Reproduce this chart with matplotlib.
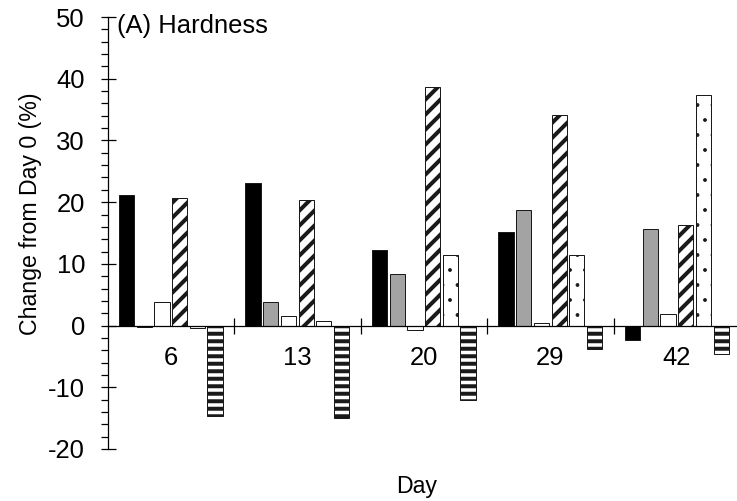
import numpy as np
import matplotlib
matplotlib.use('Agg')
import matplotlib.pyplot as plt

plt.rcParams['font.family'] = ['Liberation Sans', 'DejaVu Sans']
plt.rcParams['hatch.linewidth'] = 3.2
plt.rcParams['axes.unicode_minus'] = False

days = ['6', '13', '20', '29', '42']
# six treatments per day
s_black = [21.1, 23.1, 12.3, 15.1, -2.4]
s_gray = [-0.3, 3.8, 8.3, 18.8, 15.7]
s_white = [3.9, 1.6, -0.75, 0.45, 1.9]
s_diag = [20.7, 20.4, 38.7, 34.1, 16.3]
s_dots = [-0.4, 0.75, 11.4, 11.5, 37.4]
s_stripe = [-14.7, -14.9, -12.0, -3.8, -4.6]

series = [s_black, s_gray, s_white, s_diag, s_dots, s_stripe]
fills = ['black', '#a3a3a3', 'white', 'white', 'white', 'white']
hatches = [None, None, None, '//', '.', '--']

fig = plt.figure(figsize=(738 / 90, 501 / 90), dpi=90)
ax = fig.add_axes([0.1457, 0.1038, 0.8537, 0.8622])

x = np.arange(len(days)) + 0.5
pitch = 0.14
width = 0.12
for i, vals in enumerate(series):
    off = (i - 2.5) * pitch
    bars = ax.bar(x + off, vals, width, color=fills[i], edgecolor='#1a1a1a',
                  linewidth=0.8, hatch=hatches[i], zorder=2)
    if hatches[i] == '.':
        for b in bars:
            if hasattr(b, 'set_hatch_linewidth'):
                b.set_hatch_linewidth(0.6)

ax.set_xlim(0, 4.98)
ax.set_ylim(-20, 50)

ax.spines['top'].set_visible(False)
ax.spines['right'].set_visible(False)
ax.spines['bottom'].set_position(('data', 0))
ax.spines['left'].set_linewidth(1.0)
ax.spines['bottom'].set_linewidth(1.0)

ax.set_yticks(np.arange(-20, 51, 10))
ax.set_yticks(np.arange(-20, 51, 2), minor=True)
ax.tick_params(axis='y', which='major', direction='inout', length=12, width=1,
               labelsize=20.5, pad=12)
ax.tick_params(axis='y', which='minor', direction='out', length=5.6, width=1)

ax.set_xticks(np.arange(1, 5))
ax.set_xticklabels([])
ax.set_xticks(x, minor=True)
ax.set_xticklabels(days, minor=True)
ax.tick_params(axis='x', which='major', direction='inout', length=12.8, width=1)
ax.tick_params(axis='x', which='minor', length=0, labelsize=20.5, pad=16)

ax.set_ylabel('Change from Day 0 (%)', fontsize=18.5, labelpad=10)
ax.yaxis.set_label_coords(-0.104, 0.545)
fig.text(0.565, 0.005, 'Day', fontsize=18.5, ha='center', va='bottom')
ax.text(0.015, 48.6, '(A) Hardness', fontsize=20.5, va='center', ha='left',
        transform=ax.get_yaxis_transform())

fig.savefig('out.png', dpi=90)
